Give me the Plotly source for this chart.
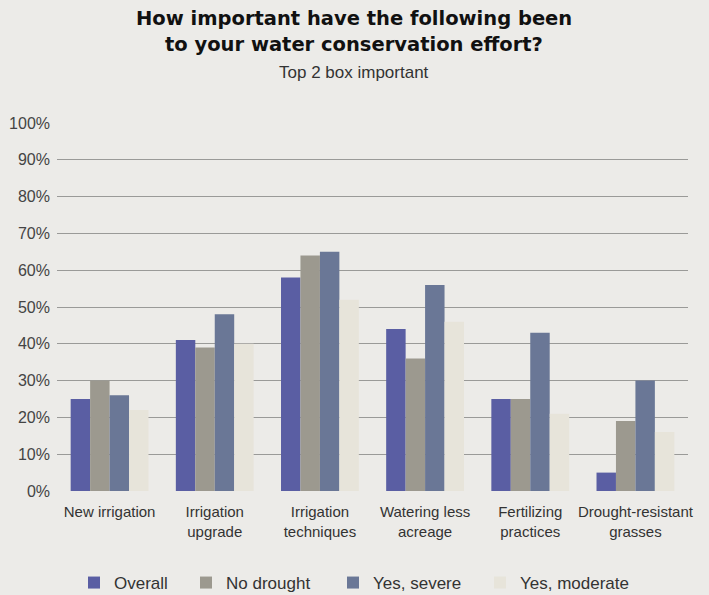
import plotly.graph_objects as go

categories = ["New irrigation", "Irrigation<br>upgrade", "Irrigation<br>techniques",
              "Watering less<br>acreage", "Fertilizing<br>practices", "Drought-resistant<br>grasses"]
overall = [25, 41, 58, 44, 25, 5]
no_drought = [30, 39, 64, 36, 25, 19]
yes_severe = [26, 48, 65, 56, 43, 30]
yes_moderate = [22, 40, 52, 46, 21, 16]

series_names = ["Overall", "No drought", "Yes, severe", "Yes, moderate"]
series_values = [overall, no_drought, yes_severe, yes_moderate]
series_colors = ["#5a5ea3", "#9c998f", "#6a7796", "#e7e4da"]
legend_px = [74, 186, 333, 480]

W, H = 709, 595
L, R, T, B = 57, 21, 123, 104
PW = W - L - R
PH = H - T - B

fig = go.Figure()
for i, (name, vals, col) in enumerate(zip(series_names, series_values, series_colors)):
    lid = "legend" if i == 0 else f"legend{i+1}"
    fig.add_trace(go.Bar(x=categories, y=vals, name=name, legend=lid, showlegend=True,
                         marker=dict(color=col, line=dict(width=0))))

def py(px):
    return (H - B - px) / PH

legends = {}
for i, lp in enumerate(legend_px):
    lid = "legend" if i == 0 else f"legend{i+1}"
    legends[lid] = dict(orientation="h", x=(lp - L) / PW, xanchor="left", y=py(583), yanchor="middle",
                        font=dict(family="Liberation Sans", size=17, color="#333"),
                        bgcolor="rgba(0,0,0,0)")

fig.update_layout(
    width=W, height=H, showlegend=True,
    barmode="group", bargap=0.26, bargroupgap=0,
    paper_bgcolor="#ecebe8", plot_bgcolor="#ecebe8",
    margin=dict(l=L, r=R, t=T, b=B, autoexpand=False),
    font=dict(family="Liberation Sans", color="#333"),
    yaxis=dict(range=[0, 100], dtick=10, ticksuffix="%", showgrid=True,
               gridcolor="#9a9a98", gridwidth=1, zeroline=False,
               showline=False, ticks="", ticklabelstandoff=6,
               tickfont=dict(size=16, color="#444")),
    xaxis=dict(showline=False, tickfont=dict(size=15, color="#333"),
               ticks="", ticklabelstandoff=10),
    annotations=[
        dict(text="<b>How important have the following been</b>", x=(354 - L) / PW,
             y=py(18), xref="paper", yref="paper", xanchor="center", yanchor="middle",
             showarrow=False, font=dict(family="DejaVu Sans", size=19.5, color="#111")),
        dict(text="<b>to your water conservation effort?</b>", x=(354 - L) / PW,
             y=py(44), xref="paper", yref="paper", xanchor="center", yanchor="middle",
             showarrow=False, font=dict(family="DejaVu Sans", size=19.5, color="#111")),
        dict(text="Top 2 box important", x=(354 - L) / PW,
             y=py(72), xref="paper", yref="paper", xanchor="center", yanchor="middle",
             showarrow=False, font=dict(family="Liberation Sans", size=17, color="#333")),
    ],
    **legends,
)
fig.write_html("out.html")
